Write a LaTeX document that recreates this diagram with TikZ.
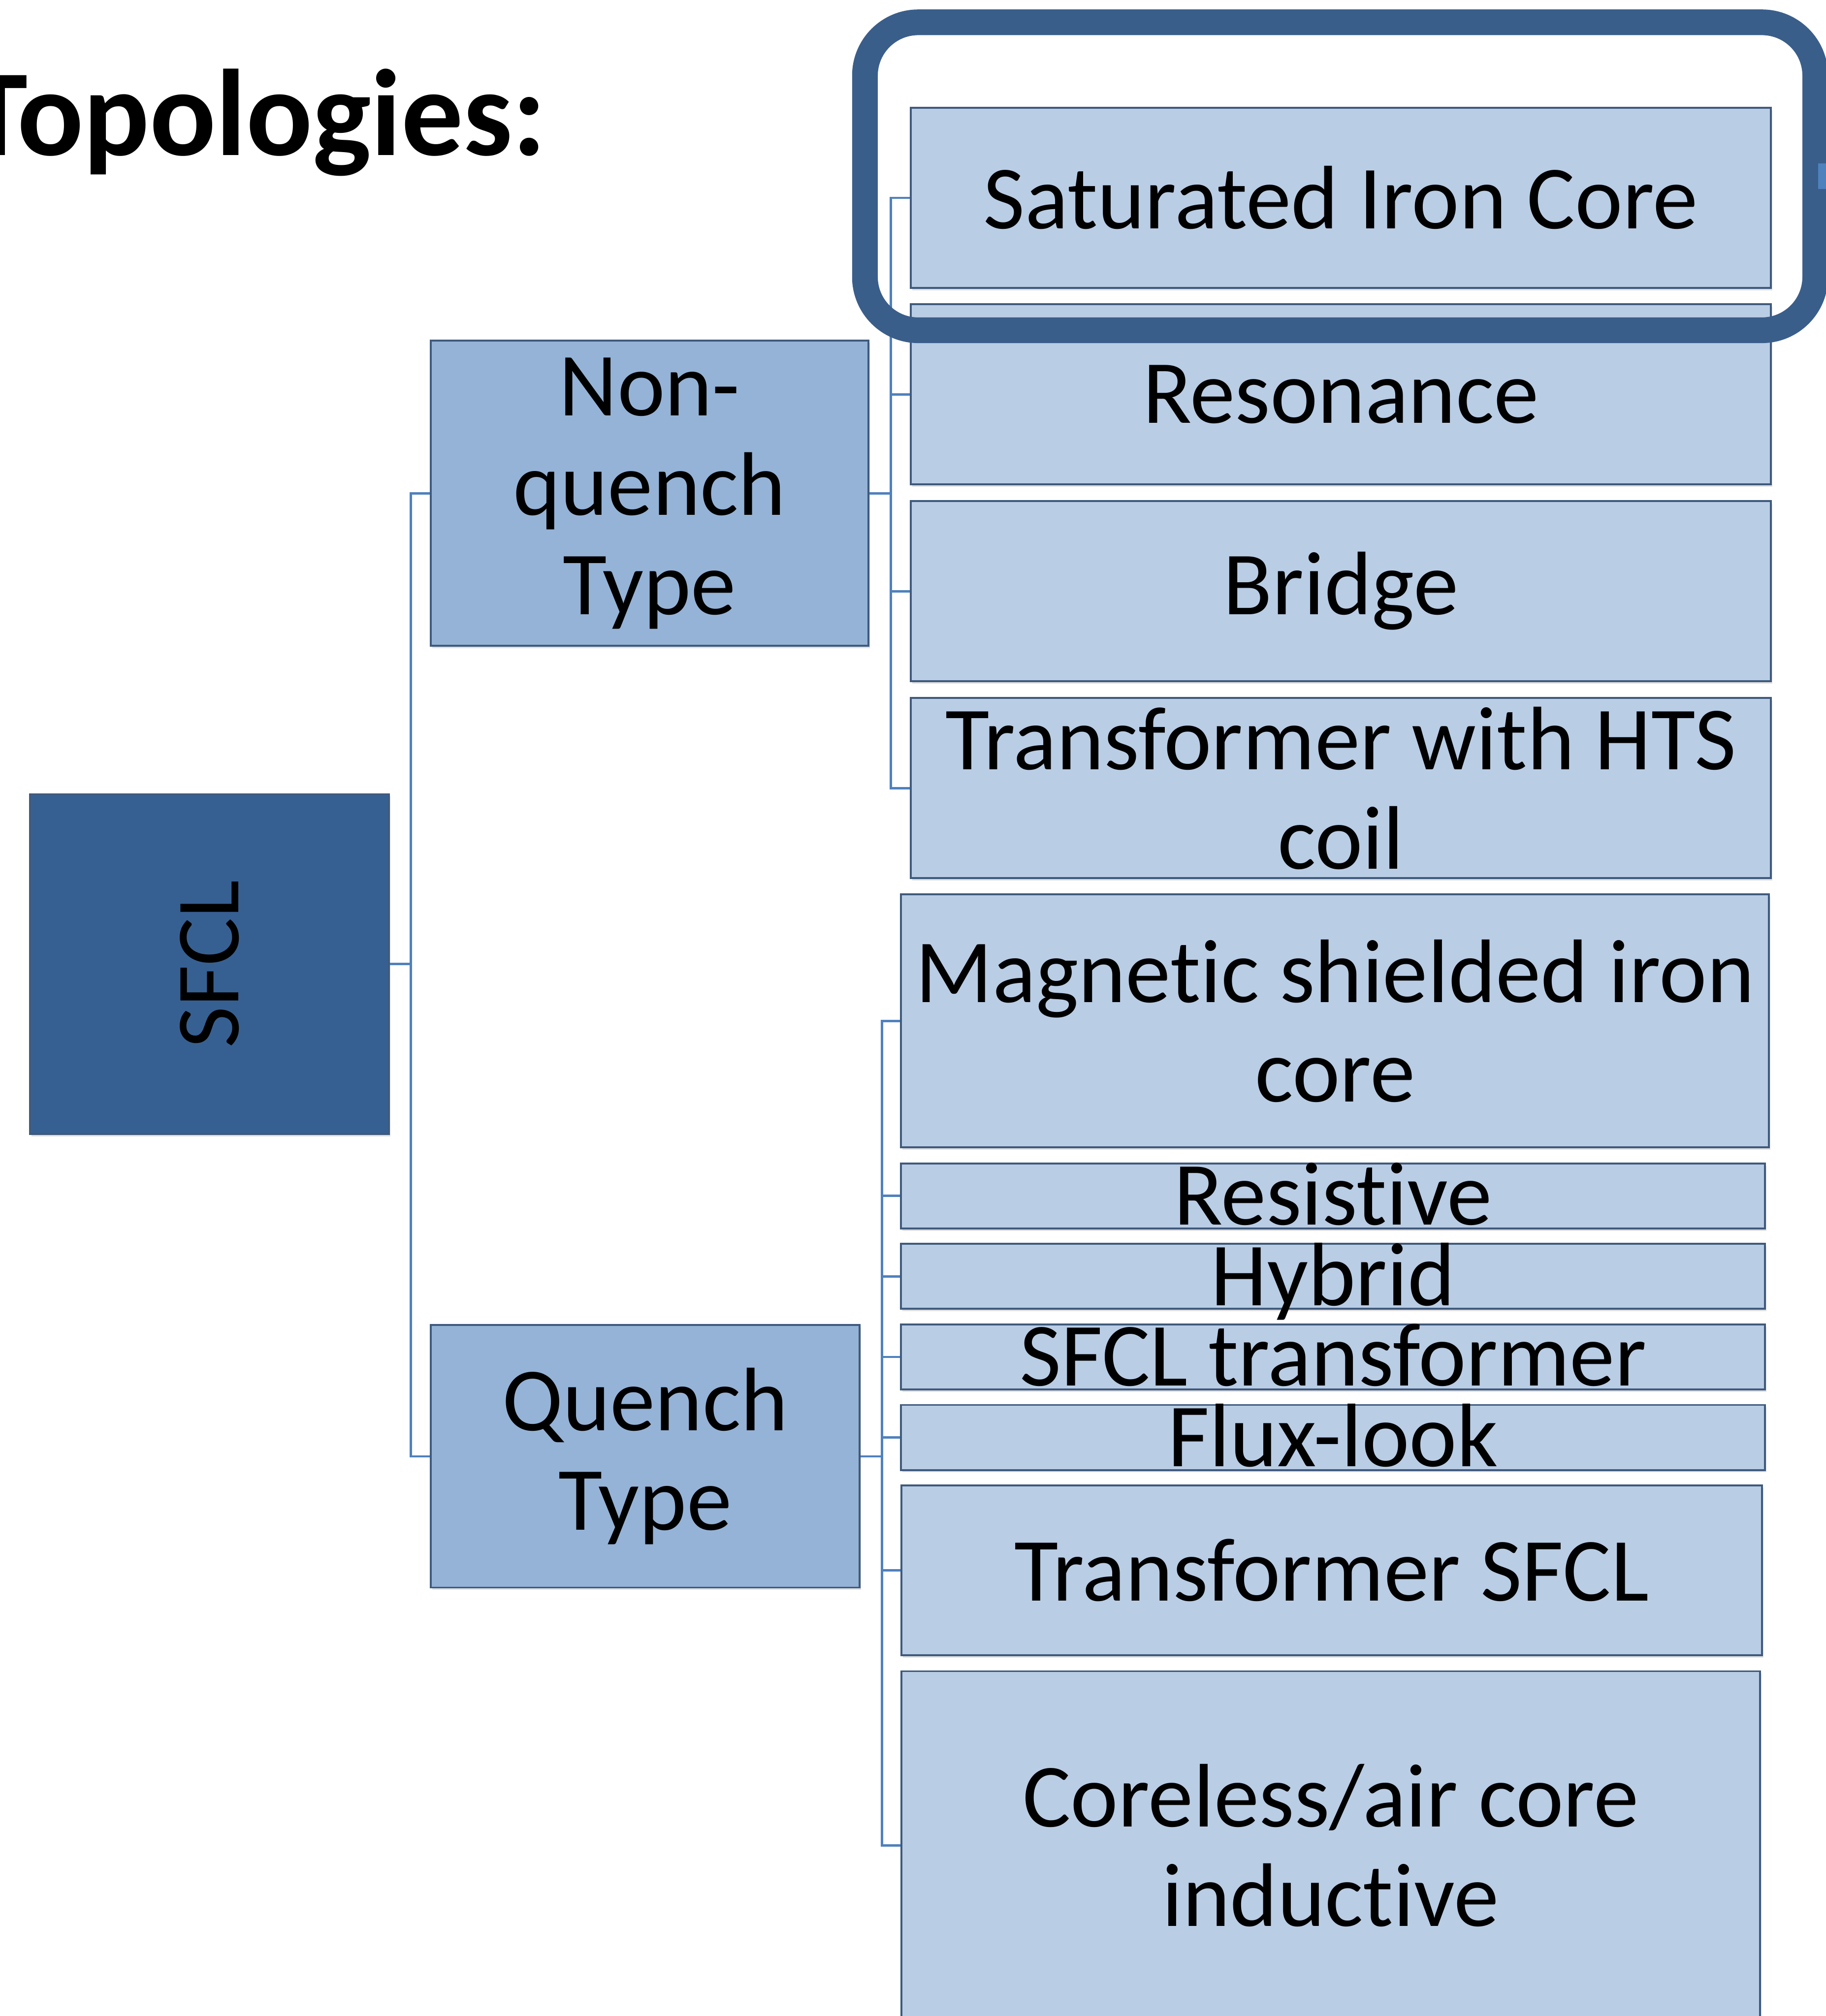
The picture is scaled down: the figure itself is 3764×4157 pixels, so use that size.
\documentclass[tikz,border=0pt]{standalone}
\usepackage{fontspec}
\setmainfont{Carlito}[Ligatures={NoCommon,NoContextual},Contextuals=NoAlternate]
\usepackage{graphicx}
\usetikzlibrary{shadows}

\definecolor{rootblue}{HTML}{376092}
\definecolor{midblue}{HTML}{95B3D7}
\definecolor{leafblue}{HTML}{B9CDE5}
\definecolor{linkblue}{HTML}{4F81BD}
\definecolor{edgegrey}{HTML}{3F5A7D}
\definecolor{focusblue}{HTML}{3A5E8A}

\begin{document}
\begin{tikzpicture}[x=0.1pt,y=-0.1pt]
\tikzstyle{box} = [rectangle, draw=edgegrey, line width=0.4pt, inner sep=0pt,
align=center, font=\fontsize{18.6}{20.5}\selectfont,
drop shadow={shadow xshift=0.3pt, shadow yshift=-0.5pt, opacity=0.25}]
\tikzstyle{root} = [box, fill=rootblue]
\tikzstyle{group} = [box, fill=midblue]
\tikzstyle{leaf} = [box, fill=leafblue]
\tikzstyle{slim} = [leaf, text height=11.9pt, text depth=0pt]
\tikzstyle{link} = [draw=linkblue, line width=0.5pt]
\tikzstyle{focus} = [draw=focusblue, line width=5.3pt, rounded corners=11pt]

\useasboundingbox (0,0) rectangle (3764,4157);

\node[anchor=base east, inner sep=0pt, font=\fontsize{25.4}{28}\selectfont\bfseries]
  (title) at (1128,320) {Topologies:};

% root
\node[root, minimum width=74pt, minimum height=70.1pt] (sfcl) at (432,1988)
  {\rotatebox{90}{SFCL}};

% two groups
\node[group, minimum width=90.2pt, minimum height=63pt] (nonquench) at (1339,1017)
  {Non-\\quench\\Type};
\node[group, minimum width=88.4pt, minimum height=54.1pt] (quench) at (1330,3003)
  {Quench\\Type};

% non-quench leaves
\node[leaf, minimum width=177.3pt, minimum height=37.2pt] (satcore) at (2764,408)
  {Saturated Iron Core};
\node[leaf, minimum width=177.3pt, minimum height=37.2pt] (resonance) at (2764,813)
  {Resonance};
\node[leaf, minimum width=177.3pt, minimum height=37.2pt] (bridge) at (2764,1219)
  {Bridge};
\node[leaf, minimum width=177.3pt, minimum height=37.2pt] (htscoil) at (2764,1625)
  {Transformer with HTS\\coil};

% quench leaves
\node[leaf, minimum width=178.9pt, minimum height=52.1pt] (magshield) at (2752,2105)
  {Magnetic shielded iron\\core};
\node[slim, minimum width=178.1pt, minimum height=13.4pt] (resistive) at (2748,2466)
  {Resistive};
\node[slim, minimum width=178.1pt, minimum height=13.4pt] (hybrid) at (2748,2632)
  {Hybrid};
\node[slim, minimum width=178.1pt, minimum height=13.4pt] (sfcltrans) at (2748,2798)
  {SFCL transformer};
\node[slim, minimum width=178.1pt, minimum height=13.4pt] (fluxlook) at (2748,2964)
  {Flux-look};
\node[leaf, minimum width=177.4pt, minimum height=35.1pt] (transsfcl) at (2745,3238)
  {Transformer SFCL};
\node[leaf, minimum width=177pt, minimum height=71.8pt] (coreless) at (2743,3805)
  {Coreless/air core\\inductive};

% connectors
\path[link] (sfcl.east) -- ++(43,0) |- (nonquench.west);
\path[link] (sfcl.east) -- ++(43,0) |- (quench.west);
\foreach \leaf in {satcore,resonance,bridge,htscoil}
  \path[link] (nonquench.east) -- ++(44,0) |- (\leaf.west);
\foreach \leaf in {magshield,resistive,hybrid,sfcltrans,fluxlook,transsfcl,coreless}
  \path[link] (quench.east) -- ++(44,0) |- (\leaf.west);

% highlight round the first leaf
\draw[focus] (1783,46) rectangle (3742,681);
\fill[linkblue] (3748,337) rectangle (3764,390);
\end{tikzpicture}
\end{document}
